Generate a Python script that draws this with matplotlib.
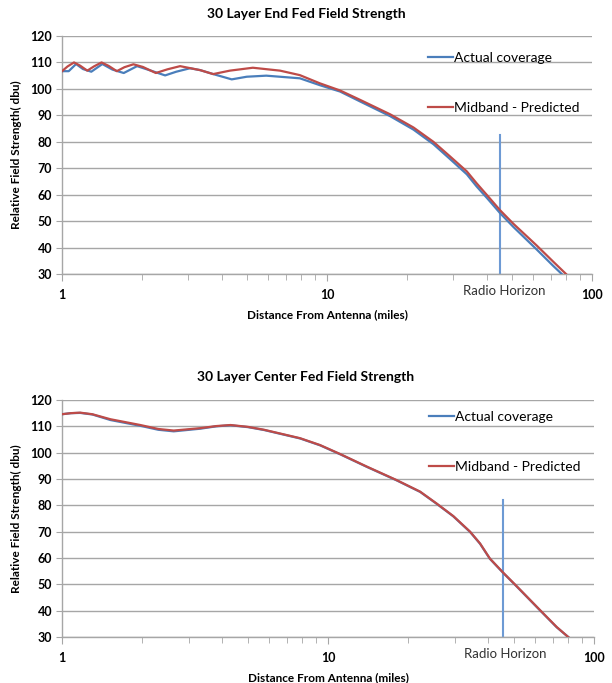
import numpy as np
import matplotlib as mpl
mpl.use('Agg')
mpl.rc('font', family=['Lato', 'DejaVu Sans'])
import matplotlib.pyplot as plt
from matplotlib.ticker import FixedLocator, NullFormatter
import matplotlib.transforms as mtransforms

# ---- data (distance in miles, field strength in dbu)
end_actual_x = [1.0, 1.06, 1.13, 1.2, 1.29, 1.42, 1.55, 1.71, 1.92, 2.15,
                2.45, 2.7, 3.04, 3.32, 3.72, 4.37, 4.98, 5.9, 7.9, 9.4,
                11.2, 13.3, 17.3, 21.2, 25.2, 29.1, 33.7, 36.7, 40.1, 45.0,
                50.5, 61.8, 71.5, 76.9]
end_actual_y = [106.7, 106.7, 109.4, 107.5, 106.5, 109.4, 107.3, 106.0,
                108.6, 107.0, 105.1, 106.5, 107.8, 107.1, 105.6, 103.6,
                104.6, 105.0, 104.0, 101.4, 99.0, 95.3, 89.7, 84.6, 79.1,
                73.5, 67.7, 63.1, 58.8, 53.0, 47.8, 39.3, 33.0, 30.0]

end_pred_x = [1.0, 1.05, 1.11, 1.17, 1.246, 1.32, 1.41, 1.5, 1.61, 1.72,
              1.86, 2.02, 2.26, 2.5, 2.79, 3.32, 3.72, 4.3, 5.25, 6.65, 7.9,
              9.4, 11.2, 13.3, 17.3, 21.2, 25.2, 29.1, 33.7, 36.7, 40.1,
              45.0, 50.5, 61.8, 71.5, 79.8]
end_pred_y = [106.7, 108.5, 110.0, 108.8, 106.9, 108.5, 110.0, 108.7, 106.7,
              108.2, 109.3, 108.3, 106.0, 107.4, 108.6, 107.1, 105.6, 106.9,
              108.0, 106.9, 105.2, 102.1, 99.4, 95.9, 90.4, 85.4, 80.0, 74.5,
              68.8, 64.3, 59.9, 54.1, 49.0, 40.8, 34.6, 30.0]

center_pred_x = [1.0, 1.08, 1.17, 1.3, 1.52, 1.97, 2.3, 2.63, 3.31, 3.8, 4.3,
                 5.0, 5.75, 7.85, 9.33, 11.1, 14.0, 18.1, 22.2, 25.6, 29.6,
                 34.2, 37.3, 40.6, 45.6, 51.2, 62.7, 72.4, 80.0]
center_pred_y = [114.6, 115.0, 115.2, 114.6, 112.7, 110.5, 109.0, 108.4,
                 109.3, 110.1, 110.5, 109.8, 108.7, 105.5, 102.9, 99.5, 94.7,
                 89.6, 85.2, 80.7, 75.9, 70.0, 65.5, 59.8, 54.4, 49.3, 40.2,
                 33.8, 30.0]

center_actual_x = center_pred_x
center_actual_y = [114.6, 115.0, 115.1, 114.5, 112.4, 110.2, 108.7, 108.1,
                   109.1, 110.0, 110.4, 109.7, 108.6, 105.4, 102.8, 99.4,
                   94.6, 89.5, 85.1, 80.6, 75.8, 69.9, 65.4, 59.7, 54.3, 49.2,
                   40.1, 33.7, 30.0]

horizon_x = [45.0, 45.5]
horizon_top = [82.5, 82.0]

titles = ['30 Layer End Fed Field Strength',
          '30 Layer Center Fed Field Strength']
series = [(end_actual_x, end_actual_y, end_pred_x, end_pred_y),
          (center_actual_x, center_actual_y, center_pred_x, center_pred_y)]

y_ticks = list(range(30, 121, 10))
x_ticks = [1, 10, 100]

blue = '#4a7ebb'
red = '#be4b48'
grid_col = '#a6a6a6'

fig = plt.figure(figsize=(6.12, 6.83), dpi=100)

# axes rectangles in figure fractions
rects = [[62 / 612, 1 - 274 / 683, 530 / 612, 238 / 683],
         [62 / 612, 1 - 637 / 683, 532 / 612, 237 / 683]]
title_y = [1 - 14 / 683, 1 - 377 / 683]
legend_top = [0.934, 0.955]

for idx, rect in enumerate(rects):
    ax = fig.add_axes(rect)
    ax_x, ax_y, pr_x, pr_y = series[idx]

    ax.semilogx(ax_x, ax_y, color=blue, linewidth=1.6,
                label='Actual coverage', zorder=3)
    ax.semilogx(pr_x, pr_y, color=red, linewidth=1.6,
                label='Midband - Predicted', zorder=4)
    ax.plot([horizon_x[idx], horizon_x[idx]], [30, horizon_top[idx]],
            color='#6d9ad4', linewidth=1.5, zorder=2)

    ax.set_xlim(1, 100)
    ax.set_ylim(30, 120)
    ax.set_yticks(y_ticks)
    ax.xaxis.set_major_locator(FixedLocator(x_ticks))
    ax.xaxis.set_minor_locator(FixedLocator(
        [m * d for d in (1, 10) for m in range(2, 10)]))
    ax.xaxis.set_minor_formatter(NullFormatter())
    ax.set_xticklabels(['1', '10', '100'])
    ax.tick_params(axis='both', which='both', direction='out',
                   color=grid_col, labelsize=9, pad=3)
    ax.tick_params(axis='x', which='major', length=5, pad=6)
    ax.tick_params(axis='x', which='minor', length=4)
    ax.tick_params(axis='y', length=4)
    for lab in ax.get_xticklabels() + ax.get_yticklabels():
        lab.set_fontweight('bold')

    ax.grid(axis='y', color=grid_col, linewidth=1.0)
    ax.set_axisbelow(True)
    for side in ('top', 'right'):
        ax.spines[side].set_visible(False)
    for side in ('left', 'bottom'):
        ax.spines[side].set_color(grid_col)
        ax.spines[side].set_linewidth(1.0)

    trans = mtransforms.blended_transform_factory(ax.transData, ax.transAxes)
    ax.text(46.5, -0.045, 'Radio Horizon', transform=trans, ha='center',
            va='top', fontsize=9.5, color='#333333')

    ax.set_xlabel('Distance From Antenna (miles)', fontsize=8.5,
                  fontweight='bold', labelpad=6)
    ax.set_ylabel('Relative Field Strength( dbu)', fontsize=8.5,
                  fontweight='bold', labelpad=6)

    fig.text(0.5, title_y[idx], titles[idx], ha='center', va='center',
             fontsize=10, fontweight='bold')

    ax.legend(loc='upper left', bbox_to_anchor=(0.69, legend_top[idx]),
              frameon=False, fontsize=10, handlelength=1.8,
              handletextpad=0.1, labelspacing=2.75, borderpad=0,
              borderaxespad=0)

fig.savefig('out.png', dpi=100)
plt.close(fig)
